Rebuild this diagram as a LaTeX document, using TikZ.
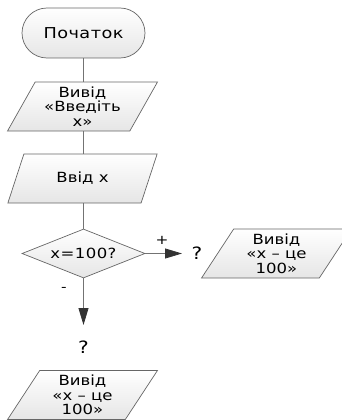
\documentclass[tikz,border=0pt]{standalone}
\usepackage{fontspec}
\setmainfont{DejaVu Sans}[FakeStretch=1.18]
\usetikzlibrary{shapes.geometric,arrows.meta}
\tikzset{
  line/.style={draw=black!55, line width=0.8pt},
  arr/.style={line, -{Triangle[length=17pt,width=10pt,color=black!80,fill=black!80]}},
  shade box/.style={draw=black!60, line width=0.7pt, top color=white, bottom color=black!10, align=center, inner sep=0pt, font=\fontsize{14}{14.5}\selectfont},
  term/.style={shade box, rectangle, rounded corners=25pt, minimum width=123pt, minimum height=50pt, font=\fontsize{15}{17}\selectfont\addfontfeatures{LetterSpace=3}},
  io/.style={shade box, trapezium, trapezium left angle=60.5, trapezium right angle=119.5, trapezium stretches=true, minimum width=150pt, minimum height=49pt},
  decision/.style={shade box, diamond, aspect=3, minimum width=123pt, minimum height=49pt, font=\fontsize{14}{15}\selectfont\addfontfeatures{LetterSpace=3}},
  lbl/.style={inner sep=0pt, font=\fontsize{13}{15}\selectfont},
  qmark/.style={inner sep=0pt, font=\fontsize{17}{19}\selectfont}
}
\begin{document}
\begin{tikzpicture}[x=1pt,y=-1pt]
\useasboundingbox (0,0) rectangle (342,420);
\clip (0,0) rectangle (342,420);
\node[term] (start) at (83.5,33) {Початок};
\node[io] (p1) at (82.5,106.5) {Вивід\\«Введіть\\х»};
\node[io] (p2) at (82.5,178.5) {Ввід х};
\node[decision] (dec) at (83.5,253.5) {x=100?};
\node[io] (yes) at (276.5,253.5) {Вивід\\«х – це\\100»};
\node[io] (no) at (82.5,395) {Вивід\\«х – це\\100»};
\node[qmark] (qyes) at (197,253) {?};
\node[qmark] (qno) at (83.5,347) {?};
\node[lbl] (plus) at (162,240) {+};
\node[lbl] (minus) at (64,289) {-};
\coordinate (tipyes) at (182,253.5);
\coordinate (tipno) at (83.5,325);
\draw[line] (start.south) -- (p1.north -| start.south);
\draw[line] (p1.south -| start.south) -- (p2.north -| start.south);
\draw[line] (p2.south -| start.south) -- (dec.north);
\draw[arr] (dec.east) -- (tipyes);
\draw[arr] (dec.south) -- (tipno);
\end{tikzpicture}
\end{document}
